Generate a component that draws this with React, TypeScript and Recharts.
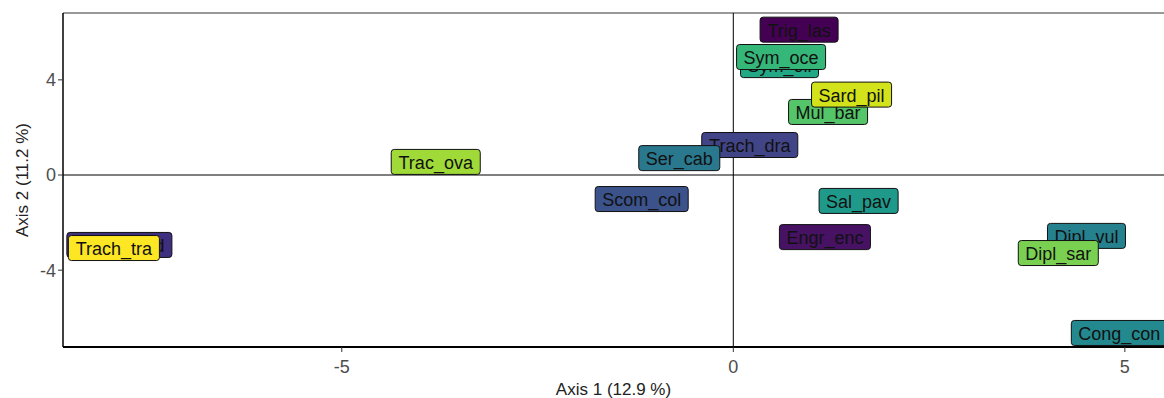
import { ScatterChart, Scatter, XAxis, YAxis, ReferenceLine } from "recharts"

// species labels in drawing order (later ones sit on top)
const species = [
  "Trig_las", "Sym_oli", "Sym_oce", "Mul_bar", "Sard_pil", "Trach_dra", "Ser_cab",
  "Trac_ova", "Scom_col", "Sal_pav", "Engr_enc", "Dipl_vul", "Dipl_sar",
  "Trach_med", "Trach_tra", "Cong_con",
]
const axis1 = [0.84, 0.59, 0.61, 1.21, 1.51, 0.21, -0.69, -3.8, -1.17, 1.6, 1.17, 4.51, 4.15, -7.84, -7.91, 4.93]
const axis2 = [6.11, 4.62, 4.96, 2.65, 3.38, 1.26, 0.71, 0.55, -1.01, -1.09, -2.61, -2.56, -3.28, -2.94, -3.07, -6.64]
const fills = [
  "#440154", "#22a884", "#35b779", "#54c568", "#d2e21b", "#414487", "#2a788e",
  "#a0da39", "#3b528b", "#1f9a8a", "#471164", "#26818e", "#7ad151",
  "#3e2f7f", "#fde725", "#23898e",
]

const xTicks = [-5, 0, 5]
const yTicks = [-4, 0, 4]
const xDomain = [-8.56, 5.5]
const yDomain = [-7.23, 6.81]

const points = species.map((name, i) => ({ name, x: axis1[i], y: axis2[i], fill: fills[i] }))

// rough Arial advance widths (per em) for label boxes
const widths: Record<string, number> = {
  a: 0.556, b: 0.556, c: 0.5, d: 0.556, e: 0.556, g: 0.556, h: 0.556, i: 0.222, l: 0.222,
  m: 0.833, n: 0.556, o: 0.556, p: 0.556, r: 0.333, s: 0.5, t: 0.278, u: 0.556, v: 0.5, y: 0.5,
  C: 0.722, D: 0.722, E: 0.667, M: 0.833, S: 0.667, T: 0.611, _: 0.556,
}
const FONT = 18
const textWidth = (s: string) => s.split("").reduce((w, ch) => w + (widths[ch] ?? 0.556) * FONT, 0)

const LabelBox = (props: any) => {
  const { cx, cy, payload } = props
  if (cx == null || cy == null) return null
  const w = textWidth(payload.name) + 14
  const h = 25
  return (
    <g>
      <rect x={cx - w / 2} y={cy - h / 2} width={w} height={h} rx={3} ry={3}
        fill={payload.fill} stroke="#111" strokeWidth={1} />
      <text x={cx} y={cy + 1} textAnchor="middle" dominantBaseline="central"
        fontSize={FONT} fill="#111" fontFamily="Arial, 'Liberation Sans', sans-serif">
        {payload.name}
      </text>
    </g>
  )
}

const tickStyle = { fontSize: 18, fill: "#4d4d4d", fontFamily: "Arial, 'Liberation Sans', sans-serif" }
const titleStyle = { fontSize: 17, fill: "#222", fontFamily: "Arial, 'Liberation Sans', sans-serif" }

export default function App() {
  return (
    <div style={{ position: "absolute", left: 0, top: 0, width: 1164, height: 398, background: "#fff" }}>
      <ScatterChart width={1164} height={398} margin={{ top: 13, right: 0, bottom: 0, left: 0 }}>
        <XAxis type="number" dataKey="x" domain={xDomain} ticks={xTicks} allowDataOverflow
          height={51} tick={{ ...tickStyle, dy: 6 }} tickSize={5} tickLine={{ stroke: "#333" }}
          axisLine={{ stroke: "#000", strokeWidth: 2 }}
          label={{ value: "Axis 1 (12.9 %)", position: "insideBottom", offset: 3, style: titleStyle }} />
        <YAxis type="number" dataKey="y" domain={yDomain} ticks={yTicks} allowDataOverflow
          width={63} tick={tickStyle} tickSize={5} tickLine={{ stroke: "#333" }}
          axisLine={{ stroke: "#000", strokeWidth: 1.5 }}
          label={{ value: "Axis 2 (11.2 %)", angle: -90, position: "insideLeft", offset: 22, style: { ...titleStyle, textAnchor: "middle" } }} />
        <ReferenceLine y={yDomain[1]} stroke="#333" strokeWidth={1} />
        <ReferenceLine x={0} stroke="#000" strokeWidth={1} />
        <ReferenceLine y={0} stroke="#000" strokeWidth={1} />
        <Scatter data={points} shape={LabelBox} isAnimationActive={false} />
      </ScatterChart>
    </div>
  )
}
